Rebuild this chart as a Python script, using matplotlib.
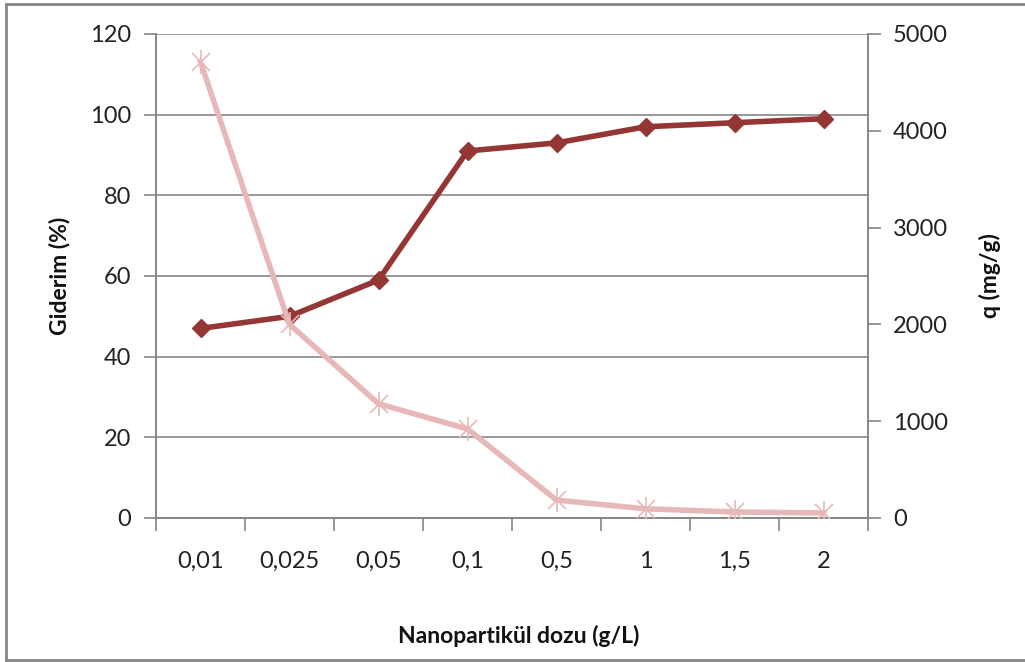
import numpy as np
import matplotlib.pyplot as plt
from matplotlib.lines import Line2D

plt.rcParams['font.family'] = ['Lato', 'DejaVu Sans']

doses = ['0,01', '0,025', '0,05', '0,1', '0,5', '1', '1,5', '2']
removal = [47, 50, 59, 91, 93, 97, 98, 99]          # Giderim (%)
capacity = [4710, 2000, 1180, 920, 185, 95, 62, 52]  # q (mg/g)

dark = '#943634'
pink = '#E6B9B8'
grey = '#868686'
W, H = 1025, 662

fig = plt.figure(figsize=(W / 100, H / 100), dpi=100)
ax = fig.add_axes([156 / W, 1 - 518 / H, (868 - 156) / W, (518 - 34) / H])
ax2 = ax.twinx()

x = np.arange(len(doses))

ax.plot(x, removal, color=dark, lw=4, marker='D', ms=9.5, zorder=3)
ax2.plot(x, capacity, color=pink, lw=4, zorder=3)
ax2.plot(x, capacity, ls='none', marker='x', ms=13, mew=1.2, color=pink, zorder=4)
ax2.plot(x, capacity, ls='none', marker='|', ms=17, mew=1.2, color=pink, zorder=4)

ax.set_xlim(-0.5, len(doses) - 0.5)
ax.set_ylim(0, 120)
ax2.set_ylim(0, 5000)
ax.set_yticks(range(0, 121, 20))
ax2.set_yticks(range(0, 5001, 1000))

# category boundaries get the tick marks, labels sit in the middle
ax.set_xticks(np.arange(-0.5, len(doses), 1.0))
ax.set_xticklabels([])
ax.set_xticks(x, minor=True)
ax.set_xticklabels(doses, minor=True)
ax.tick_params(axis='x', which='major', length=9, color=grey, width=1.2, direction='out')
ax.tick_params(axis='x', which='minor', length=0, pad=24, labelsize=17, colors='#222222')
ax.tick_params(axis='y', length=9, color=grey, width=1.2, pad=9, labelsize=17, labelcolor='#222222')
ax2.tick_params(axis='y', length=9, color=grey, width=1.2, pad=9, labelsize=17, labelcolor='#222222')

ax.grid(axis='y', color=grey, lw=1.2)
ax.set_axisbelow(True)

for a in (ax, ax2):
    a.spines['top'].set_visible(False)
    for s in ('left', 'right', 'bottom'):
        a.spines[s].set_color(grey)
        a.spines[s].set_linewidth(1.2)

fig.text(60 / W, 1 - 276 / H, 'Giderim (%)', rotation=90, ha='center', va='center',
         fontsize=16.5, fontweight='bold', color='#111111')
fig.text(990 / W, 1 - 276 / H, 'q (mg/g)', rotation=90, ha='center', va='center',
         fontsize=16.5, fontweight='bold', color='#111111')
fig.text(519 / W, 1 - 636 / H, 'Nanopartikül dozu (g/L)', ha='center', va='center',
         fontsize=16.5, fontweight='bold', color='#111111')

# outer chart frame
fig.add_artist(Line2D([6 / W, 6 / W], [2 / H, 1 - 4 / H], color=grey, lw=2, transform=fig.transFigure))
fig.add_artist(Line2D([6 / W, 1], [1 - 4 / H, 1 - 4 / H], color=grey, lw=2, transform=fig.transFigure))
fig.add_artist(Line2D([6 / W, 1], [2 / H, 2 / H], color=grey, lw=2, transform=fig.transFigure))

fig.savefig('out.png', dpi=100)
